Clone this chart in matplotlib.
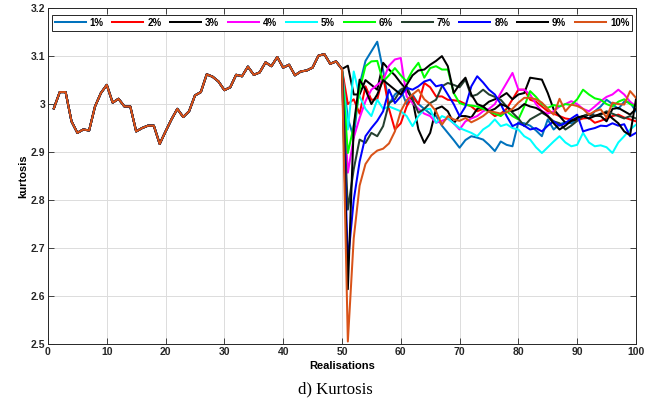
import matplotlib
matplotlib.use("Agg")
import matplotlib.pyplot as plt
import numpy as np

# realisations 1..50 are the same for every series
common = [2.991, 3.025, 3.025, 2.964, 2.940, 2.947, 2.945, 2.995, 3.023, 3.040,
          3.003, 3.011, 2.995, 2.995, 2.943, 2.950, 2.955, 2.955, 2.917, 2.943,
          2.968, 2.990, 2.973, 2.985, 3.018, 3.025, 3.062, 3.057, 3.047, 3.029,
          3.035, 3.061, 3.058, 3.078, 3.061, 3.066, 3.087, 3.079, 3.098, 3.076,
          3.082, 3.060, 3.068, 3.070, 3.076, 3.101, 3.104, 3.084, 3.089, 3.073]

# realisations 51..100 for each level
tail_1 = [2.970, 2.930, 3.040, 3.090, 3.110, 3.130, 3.070, 3.000, 3.020, 3.030,
          3.000, 3.020, 3.000, 2.990, 2.980, 2.975, 2.955, 2.940, 2.925, 2.909,
          2.925, 2.933, 2.930, 2.926, 2.915, 2.902, 2.922, 2.915, 2.912, 2.962,
          2.960, 2.955, 2.945, 2.933, 2.968, 2.947, 2.958, 2.962, 2.960, 2.968,
          2.975, 2.970, 2.985, 2.995, 3.009, 3.000, 2.990, 3.005, 3.003, 2.985]
tail_2 = [3.000, 3.010, 2.980, 3.037, 3.009, 3.010, 3.058, 2.990, 2.947, 2.960,
          2.995, 3.016, 3.000, 3.044, 3.035, 3.016, 3.016, 3.009, 3.008, 3.006,
          3.000, 2.995, 2.985, 2.990, 2.985, 2.975, 2.980, 2.990, 3.010, 3.030,
          3.030, 3.009, 3.005, 2.995, 2.985, 2.980, 2.975, 2.970, 2.968, 2.966,
          2.970, 2.971, 2.961, 2.965, 2.970, 2.975, 2.978, 2.972, 2.968, 2.964]
tail_3 = [3.080, 3.020, 3.020, 3.050, 3.040, 3.030, 3.086, 3.072, 3.060, 3.044,
          3.030, 3.009, 2.947, 2.919, 2.940, 2.990, 2.995, 2.985, 2.960, 2.975,
          2.975, 2.972, 2.990, 2.995, 3.005, 3.010, 3.015, 3.023, 3.010, 3.020,
          3.023, 3.055, 3.053, 3.051, 3.023, 2.989, 2.975, 2.961, 2.965, 2.968,
          2.975, 2.978, 2.976, 2.975, 2.964, 2.990, 2.992, 2.985, 2.978, 2.990]
tail_4 = [2.857, 2.930, 2.971, 3.006, 3.030, 3.040, 3.050, 3.080, 3.093, 3.096,
          3.016, 3.002, 2.990, 2.980, 2.975, 2.961, 2.965, 2.970, 2.960, 2.947,
          2.964, 2.970, 2.975, 2.985, 2.990, 3.000, 3.023, 3.044, 3.065, 3.030,
          3.030, 3.020, 3.000, 2.985, 2.980, 2.985, 2.995, 3.000, 3.006, 3.000,
          2.990, 2.985, 2.995, 3.006, 3.015, 3.020, 3.030, 3.020, 3.005, 2.995]
tail_5 = [2.947, 3.068, 3.016, 2.990, 2.975, 3.009, 2.990, 2.995, 2.990, 2.985,
          2.975, 2.954, 2.975, 2.989, 2.990, 2.961, 2.975, 2.970, 2.960, 2.950,
          2.945, 2.940, 2.933, 2.947, 2.955, 2.968, 2.954, 2.958, 2.950, 2.947,
          2.933, 2.926, 2.910, 2.898, 2.910, 2.922, 2.933, 2.920, 2.912, 2.915,
          2.940, 2.920, 2.912, 2.914, 2.910, 2.898, 2.920, 2.933, 2.947, 2.957]
tail_6 = [2.898, 2.954, 3.030, 3.079, 3.089, 3.090, 3.047, 3.060, 3.075, 3.060,
          3.047, 3.070, 3.086, 3.055, 3.075, 3.079, 3.072, 3.072, 3.023, 3.002,
          2.998, 2.997, 2.995, 2.990, 2.985, 2.980, 2.975, 2.985, 2.975, 2.968,
          2.995, 3.027, 3.015, 3.000, 2.992, 2.998, 2.995, 3.000, 2.998, 3.010,
          3.030, 3.020, 3.012, 3.009, 3.000, 2.995, 3.005, 3.010, 3.000, 2.995]
tail_7 = [2.780, 2.864, 2.926, 2.919, 2.940, 2.933, 2.954, 3.002, 3.010, 3.030,
          3.037, 3.010, 2.982, 2.990, 3.002, 3.009, 3.037, 3.044, 3.040, 3.035,
          3.051, 3.016, 3.020, 3.030, 3.020, 3.015, 3.009, 2.995, 2.982, 2.970,
          2.954, 2.968, 2.975, 2.982, 2.975, 2.964, 2.960, 2.947, 2.955, 2.965,
          2.975, 2.980, 2.975, 2.978, 2.985, 2.980, 2.975, 2.970, 2.975, 2.970]
tail_8 = [2.670, 2.800, 2.880, 2.933, 2.950, 2.965, 2.985, 3.030, 3.002, 3.016,
          3.034, 3.030, 3.037, 3.047, 3.051, 3.037, 3.040, 3.020, 3.000, 2.975,
          2.995, 3.037, 3.058, 3.045, 3.030, 3.020, 3.000, 2.975, 2.954, 2.960,
          2.955, 2.947, 2.950, 2.943, 2.955, 2.964, 2.955, 2.960, 2.970, 2.978,
          2.943, 2.947, 2.950, 2.955, 2.954, 2.960, 2.955, 2.958, 2.933, 2.940]
tail_9 = [2.614, 2.954, 3.051, 3.030, 3.000, 3.020, 3.050, 3.040, 3.030, 3.020,
          3.040, 3.060, 3.070, 3.072, 3.082, 3.090, 3.100, 3.079, 3.023, 3.041,
          3.055, 3.020, 3.000, 2.995, 2.985, 2.990, 3.000, 2.995, 2.985, 2.990,
          3.000, 2.995, 2.992, 2.985, 2.975, 2.960, 2.947, 2.955, 2.965, 2.972,
          2.975, 2.970, 2.975, 2.980, 2.982, 2.970, 2.960, 2.943, 2.935, 3.010]
tail_10 = [2.505, 2.720, 2.830, 2.875, 2.893, 2.903, 2.907, 2.918, 2.943, 2.985,
           3.008, 3.020, 3.030, 3.010, 3.000, 2.985, 2.957, 2.975, 2.968, 2.965,
           2.971, 2.962, 2.968, 2.975, 2.985, 2.983, 2.980, 2.983, 2.990, 3.003,
           3.013, 3.013, 3.010, 3.003, 2.990, 2.978, 3.011, 2.985, 2.999, 2.996,
           2.990, 2.978, 2.985, 2.989, 2.972, 3.003, 3.000, 2.999, 3.027, 3.013]

labels = ['1%', '2%', '3%', '4%', '5%', '6%', '7%', '8%', '9%', '10%']
tails = [tail_1, tail_2, tail_3, tail_4, tail_5, tail_6, tail_7, tail_8, tail_9, tail_10]
colors = ['#0072BD', '#FF0000', '#000000', '#FF00FF', '#00FFFF',
          '#00FF00', '#254030', '#0000FF', '#000000', '#D95319']

realisations = np.arange(1, 101)

plt.rcParams['font.family'] = ['Liberation Sans', 'DejaVu Sans']

fig = plt.figure(figsize=(6.7, 4.07), dpi=100)
ax = fig.add_axes([0.0716, 0.155, 0.8776, 0.825])

for lab, tail, col in zip(labels, tails, colors):
    ax.plot(realisations, common + tail, color=col, lw=1.45, label=lab)

ax.set_xlim(0, 100)
ax.set_ylim(2.5, 3.2)
ax.set_xticks(np.arange(0, 101, 10))
ax.set_yticks([2.5, 2.6, 2.7, 2.8, 2.9, 3.0, 3.1, 3.2])
ax.set_yticklabels(['2.5', '2.6', '2.7', '2.8', '2.9', '3', '3.1', '3.2'])
ax.grid(True, color='#DCDCDC', lw=0.7)
ax.set_axisbelow(True)
ax.tick_params(direction='in', top=True, right=True, length=4, width=0.6,
               labelsize=7.5, colors='#262626', pad=2)
for t in ax.get_xticklabels() + ax.get_yticklabels():
    t.set_fontweight('bold')
for s in ax.spines.values():
    s.set_color('#262626')
    s.set_linewidth(0.7)

ax.set_xlabel('Realisations', fontsize=8, fontweight='bold', labelpad=3)
ax.set_ylabel('kurtosis', fontsize=8, fontweight='bold', labelpad=2)

leg = ax.legend(loc='upper center', ncol=10, prop={'weight': 'bold', 'size': 7},
                handlelength=3.2, handletextpad=0.4, columnspacing=0.9,
                borderpad=0.3, fancybox=False, framealpha=1,
                bbox_to_anchor=(0.5, 0.995))
leg.get_frame().set_edgecolor('#262626')
leg.get_frame().set_linewidth(0.7)

fig.text(0.5, 0.043, 'd) Kurtosis', ha='center', va='center', fontsize=12,
         family='Liberation Serif')

fig.savefig('out.png', dpi=100)
